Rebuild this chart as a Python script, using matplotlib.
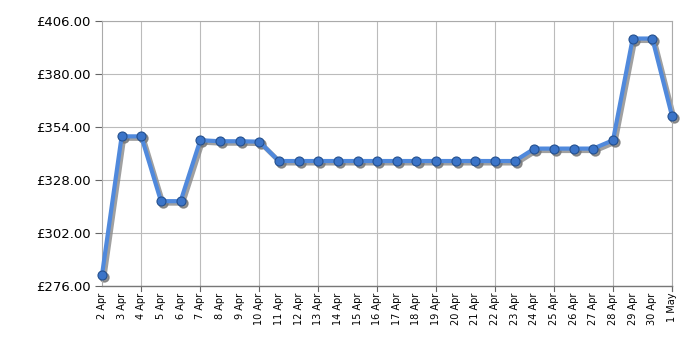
import matplotlib
matplotlib.use("Agg")
import matplotlib.pyplot as plt
import matplotlib.transforms as mtransforms

dates = ["2 Apr", "3 Apr", "4 Apr", "5 Apr", "6 Apr", "7 Apr", "8 Apr", "9 Apr",
         "10 Apr", "11 Apr", "12 Apr", "13 Apr", "14 Apr", "15 Apr", "16 Apr",
         "17 Apr", "18 Apr", "19 Apr", "20 Apr", "21 Apr", "22 Apr", "23 Apr",
         "24 Apr", "25 Apr", "26 Apr", "27 Apr", "28 Apr", "29 Apr", "30 Apr", "1 May"]
prices = [281.4, 349.4, 349.4, 317.6, 317.6, 347.5, 347.0, 347.0,
          346.8, 337.3, 337.3, 337.3, 337.3, 337.3, 337.3,
          337.3, 337.3, 337.3, 337.3, 337.3, 337.3, 337.3,
          343.4, 343.4, 343.4, 343.4, 347.5, 397.4, 397.4, 359.4]
yticks = [276, 302, 328, 354, 380, 406]

fig = plt.figure(figsize=(7, 3.5), dpi=100)
ax = fig.add_axes([0.1457, 0.183, 0.8143, 0.757])

x = list(range(len(dates)))
# drop shadow, offset down-right
shadow = mtransforms.offset_copy(ax.transData, fig=fig, x=1.5, y=-1.5, units="points")
ax.plot(x, prices, color="#888888", lw=3.5, marker="o", ms=6.5, mfc="#777777",
        mec="#777777", alpha=0.8, transform=shadow, zorder=2, clip_on=False)
ax.plot(x, prices, color="#5089dc", lw=3.0, marker="o", ms=6.5,
        mfc="#3b74c8", mec="#24508f", mew=0.8, zorder=3, clip_on=False)

ax.set_xlim(0, len(dates) - 1)
ax.set_ylim(276, 406)
ax.set_yticks(yticks)
ax.set_yticklabels([f"£{v:.2f}" for v in yticks], fontsize=9.5)
ax.set_xticks(x)
ax.set_xticklabels(dates, rotation=90, fontsize=7)
ax.tick_params(axis="x", length=0, pad=5)
ax.tick_params(axis="y", length=5, color="#666666", pad=3)

for i in range(2, len(dates), 3):
    ax.axvline(i, color="#bbbbbb", lw=0.8, zorder=1)
    ax.plot([i, i], [0, -0.02], transform=ax.get_xaxis_transform(), color="#666666",
            lw=0.8, clip_on=False)
ax.plot([len(dates) - 1] * 2, [0, -0.02], transform=ax.get_xaxis_transform(),
        color="#666666", lw=0.8, clip_on=False)
ax.yaxis.grid(True, color="#bbbbbb", lw=0.8, zorder=1)
ax.set_axisbelow(True)

for side in ["top", "right", "left"]:
    ax.spines[side].set_color("#aaaaaa")
    ax.spines[side].set_linewidth(0.8)
ax.spines["bottom"].set_color("#777777")
ax.spines["bottom"].set_linewidth(1.0)

fig.savefig("out.png", dpi=100)
